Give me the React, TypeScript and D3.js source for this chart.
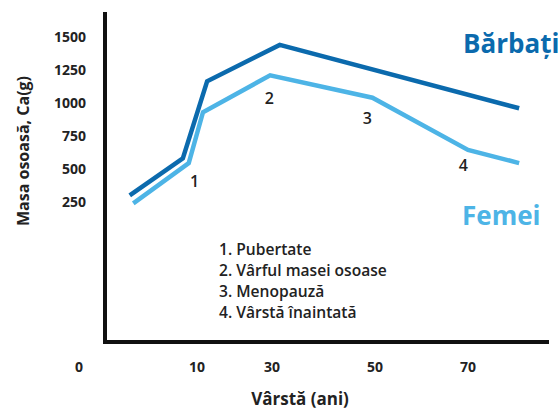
import { useEffect, useRef } from 'react'
import * as d3 from 'd3'

// age ticks (axis isn't linear in the source picture)
const ageTicks = [0, 10, 30, 50, 70]
const valueTicks = [250, 500, 750, 1000, 1250, 1500]

const barbatiAge = [4.3, 8.8, 12.7, 31.5, 81]
const barbatiMass = [300, 580, 1165, 1440, 960]

const femeiAge = [4.6, 9.3, 11.6, 29.5, 49.5, 70, 81]
const femeiMass = [240, 545, 930, 1210, 1040, 645, 545]

const markers = [
  { label: '1', age: 9.8, mass: 405 },
  { label: '2', age: 29.3, mass: 1035 },
  { label: '3', age: 48.5, mass: 885 },
  { label: '4', age: 69, mass: 530 },
]

const legendItems = ['1. Pubertate', '2. Vârful masei osoase', '3. Menopauză', '4. Vârstă înaintată']

const DARK = '#0b6aad'
const LIGHT = '#4db4e6'
const FONT = '"Open Sans", sans-serif'

export default function App() {
  const svgRef = useRef<SVGSVGElement>(null)

  useEffect(() => {
    const svg = d3.select(svgRef.current)
    svg.selectAll('*').remove()

    // piecewise linear mapping, ticks are unevenly spaced in the original
    const x = d3.scaleLinear().domain(ageTicks).range([79, 197, 272, 375, 468])
    const xAt = (a: number) => (a > 70 ? 468 + (a - 70) * 4.65 : x(a))
    const y = d3.scaleLinear().domain([0, 1500]).range([235, 37])

    // axes frame
    svg.append('line').attr('x1', 105).attr('x2', 105).attr('y1', 12).attr('y2', 344)
      .attr('stroke', '#111').attr('stroke-width', 4)
    svg.append('line').attr('x1', 103).attr('x2', 549).attr('y1', 342).attr('y2', 342)
      .attr('stroke', '#111').attr('stroke-width', 4)

    svg.append('g').selectAll('text').data(valueTicks).join('text')
      .attr('x', 86).attr('y', (d) => y(d)).attr('dy', '0.35em')
      .attr('text-anchor', 'end').attr('font-size', 14).attr('font-weight', 700)
      .attr('fill', '#222').text((d) => d)

    svg.append('g').selectAll('text').data(ageTicks).join('text')
      .attr('x', (d) => x(d)).attr('y', 367).attr('dy', '0.35em')
      .attr('text-anchor', 'middle').attr('font-size', 14).attr('font-weight', 700)
      .attr('fill', '#222').text((d) => d)

    const line = d3.line<[number, number]>().x((d) => xAt(d[0])).y((d) => y(d[1]))

    svg.append('path').datum(d3.zip(barbatiAge, barbatiMass) as [number, number][])
      .attr('d', line).attr('fill', 'none').attr('stroke', DARK).attr('stroke-width', 4.5)
    svg.append('path').datum(d3.zip(femeiAge, femeiMass) as [number, number][])
      .attr('d', line).attr('fill', 'none').attr('stroke', LIGHT).attr('stroke-width', 4.5)

    svg.append('g').selectAll('text').data(markers).join('text')
      .attr('x', (d) => xAt(d.age)).attr('y', (d) => y(d.mass)).attr('dy', '0.35em')
      .attr('text-anchor', 'middle').attr('font-size', 16).attr('font-weight', 600)
      .attr('fill', '#222').text((d) => d.label)

    svg.append('g').selectAll('text').data(legendItems).join('text')
      .attr('x', 219).attr('y', (d, i) => 250 + i * 21).attr('dy', '0.35em')
      .attr('font-size', 15.6).attr('font-weight', 600).attr('fill', '#222')
      .text((d) => d)

    svg.append('text').attr('x', 463).attr('y', 53).attr('font-size', 26).attr('font-weight', 700)
      .attr('fill', DARK).text('Bărbați')
    svg.append('text').attr('x', 462).attr('y', 225).attr('font-size', 26).attr('font-weight', 700)
      .attr('fill', LIGHT).text('Femei')

    svg.append('text').attr('x', 300).attr('y', 405).attr('text-anchor', 'middle')
      .attr('font-size', 17).attr('font-weight', 700).attr('fill', '#222').text('Vârstă (ani)')
    svg.append('text').attr('transform', 'translate(29,151) rotate(-90)').attr('text-anchor', 'middle')
      .attr('font-size', 16).attr('font-weight', 700).attr('fill', '#222').text('Masa osoasă, Ca(g)')
  }, [])

  return (
    <svg ref={svgRef} width={558} height={410}
      style={{ position: 'absolute', left: 0, top: 0, fontFamily: FONT, background: '#fff' }} />
  )
}
